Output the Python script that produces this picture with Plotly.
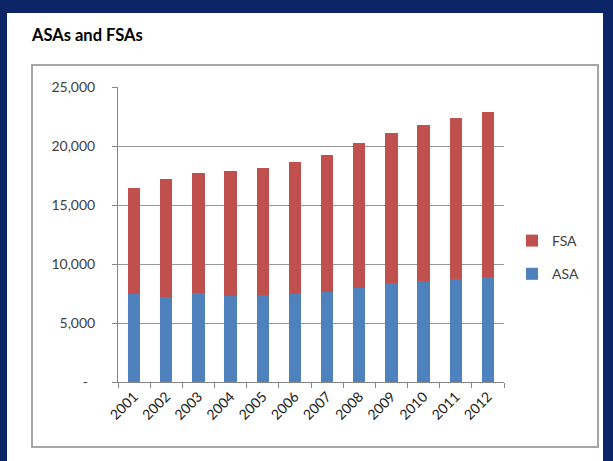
import plotly.graph_objects as go

years = ["2001", "2002", "2003", "2004", "2005", "2006", "2007", "2008", "2009", "2010", "2011", "2012"]
asa = [7430, 7230, 7520, 7310, 7380, 7450, 7650, 7970, 8390, 8560, 8730, 8900]
totals = [16400, 17170, 17680, 17900, 18140, 18640, 19240, 20250, 21100, 21780, 22370, 22880]
fsa = [t - a for t, a in zip(totals, asa)]
y_ticks = [0, 5000, 10000, 15000, 20000, 25000]
y_ticktext = ["-\u00a0\u00a0", "5,000", "10,000", "15,000", "20,000", "25,000"]

W, H = 613, 461
L, R, T, B = 118, 504, 87, 382

def px(x):
    return (x - L) / (R - L)

def py(y):
    return (B - y) / (B - T)

fig = go.Figure()
fig.add_trace(go.Bar(x=years, y=asa, name="ASA", marker_color="#4F81BD",
                     marker_line_width=0, legendgroup="a", legendrank=2))
fig.add_trace(go.Bar(x=years, y=fsa, name="FSA", marker_color="#C0504D",
                     marker_line_width=0, legendgroup="f", legendrank=1))

fig.update_layout(
    width=W, height=H,
    margin=dict(l=L, r=W - R, t=T, b=H - B, pad=0),
    barmode="stack", bargap=0.62,
    paper_bgcolor="#0b2566", plot_bgcolor="white",
    font=dict(family="Lato, Open Sans, sans-serif", color="#404040"),
    showlegend=True,
    legend=dict(x=px(512), y=py(225), xanchor="left", yanchor="top",
                traceorder="grouped", tracegroupgap=12,
                font=dict(size=14, color="#404040"), bgcolor="rgba(0,0,0,0)"),
    shapes=[
        dict(type="rect", xref="paper", yref="paper", layer="below",
             x0=px(7), x1=px(603), y0=py(475), y1=py(13),
             fillcolor="white", line=dict(width=0)),
        dict(type="rect", xref="paper", yref="paper", layer="below",
             x0=px(32), x1=px(598), y0=py(447), y1=py(65),
             fillcolor="white", line=dict(color="#a6a6a6", width=2)),
    ],
    annotations=[
        dict(text="<b>ASAs and FSAs</b>", xref="paper", yref="paper",
             x=px(29), y=py(35), xanchor="left", yanchor="middle",
             showarrow=False, font=dict(size=16.5, color="black",
                                        family="Lato, Open Sans, sans-serif")),
    ],
)

fig.update_xaxes(
    type="category", tickangle=-45, showgrid=False,
    showline=True, linecolor="#868686", linewidth=1,
    ticks="outside", tickson="boundaries", ticklen=5, tickcolor="#868686",
    tickfont=dict(size=14, color="#1a1a1a"),
)
fig.update_yaxes(
    range=[0, 25000], tickvals=y_ticks, ticktext=y_ticktext,
    showgrid=True, gridcolor="#999999", gridwidth=1,
    showline=True, linecolor="#868686", linewidth=1,
    ticks="outside", ticklen=5, tickcolor="#868686",
    ticklabelstandoff=14,
    tickfont=dict(size=14, color="#404040"), zeroline=False,
)

fig.write_html("out.html")
